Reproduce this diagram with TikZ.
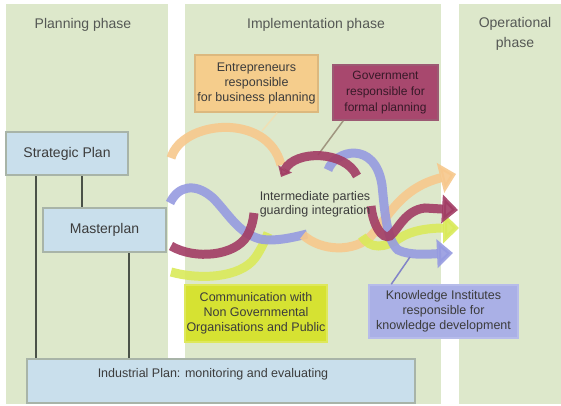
\documentclass[tikz,border=0pt]{standalone}
\usepackage{fontspec}
\setmainfont{Liberation Sans}
\usetikzlibrary{arrows.meta}
\definecolor{panel}{RGB}{221,232,203}
\definecolor{boxblue}{RGB}{201,223,236}
\definecolor{boxline}{RGB}{168,180,168}
\definecolor{conncol}{RGB}{74,82,72}
\definecolor{txtgrey}{RGB}{85,88,85}
\definecolor{txtdark}{RGB}{60,60,60}
\definecolor{orangebox}{RGB}{245,205,140}
\definecolor{maroonbox}{RGB}{168,72,110}
\definecolor{yellowbox}{RGB}{214,226,50}
\definecolor{lavbox}{RGB}{170,176,230}
\definecolor{ribor}{RGB}{247,200,140}
\definecolor{ribma}{RGB}{162,60,100}
\definecolor{ribla}{RGB}{150,155,225}
\definecolor{ribye}{RGB}{218,234,90}
\tikzset{
  title/.style={text=txtgrey, font=\fontsize{14}{20}\selectfont, align=center, inner sep=0pt},
  mainbox/.style={draw=boxline, line width=2.5pt, fill=boxblue, text=txtdark, font=\fontsize{14}{17}\selectfont},
  conn/.style={draw=conncol, line width=2.2pt},
  lab/.style={text=txtdark, font=\fontsize{12.5}{15}\selectfont, align=center, inner sep=0pt},
  labbox/.style={lab, line width=1.5pt},
  rib/.style={line width=9pt, opacity=0.9},
  ptr/.style={line width=1.5pt},
}
\begin{document}
\begin{tikzpicture}[x=1pt,y=-1pt]
\useasboundingbox (0,0) rectangle (561,406);
\fill[white] (0,0) rectangle (561,406);
\fill[panel] (6,4) rectangle (168,404);
\fill[panel] (185,4) rectangle (441,404);
\fill[panel] (459,4) rectangle (561,404);

% titles
\node[title] (t1) at (83,25) {Planning phase};
\node[title] (t2) at (316,25) {Implementation phase};
\node[title] (t3) at (515,34) {Operational\\phase};

% label boxes
\node[labbox, fill=orangebox, draw=orangebox!90!black, minimum width=123pt, minimum height=57pt] (ob) at (256.5,83.5) {Entrepreneurs\\responsible\\for business planning};
\node[labbox, fill=maroonbox, draw=maroonbox!70!gray, minimum width=105pt, minimum height=55pt, font=\fontsize{12}{16}\selectfont, text={rgb,255:red,55;green,25;blue,40}] (mb) at (385.5,92.5) {Government\\responsible for\\formal planning};

% pointers
\coordinate (mbp) at (318,155);
\coordinate (obp) at (262,131);
\draw[ptr, draw={rgb,255:red,160;green,150;blue,128}] ([xshift=11pt]mb.south west) -- (mbp);
\draw[ptr, draw={rgb,255:red,240;green,224;blue,180}] ([xshift=83pt]ob.south west) -- (obp);

% ribbons
\draw[rib, ribye] (171,272) .. controls (200,280) and (240,278) .. (255,258) .. controls (262,248) and (265,240) .. (268,233);
\draw[rib, ribor] (171,158) .. controls (182,120) and (268,112) .. (281,165);
\draw[rib, ribla] (170,203) .. controls (178,186) and (195,182) .. (213,198) .. controls (228,213) and (238,233) .. (260,239) .. controls (275,242) and (295,237) .. (307,234);
\draw[rib, ribma] (171,246) .. controls (195,260) and (235,256) .. (247,236) .. controls (251,229) and (253,222) .. (254,213);
\draw[rib, ribor, -{Triangle[length=16pt,width=30pt]}] (303,235) .. controls (322,252) and (355,252) .. (371,236) .. controls (388,218) and (400,188) .. (456,174);
\draw[rib, ribye, -{Triangle[length=16pt,width=30pt]}] (362,236) .. controls (370,250) and (385,248) .. (400,238) .. controls (412,230) and (430,228) .. (459,228);
\draw[rib, ribla, -{Triangle[length=16pt,width=28pt]}] (328,170) .. controls (335,150) and (375,140) .. (382,185) .. controls (385,215) and (387,240) .. (398,250) .. controls (410,256) and (430,254) .. (453,253);
\draw[rib, ribma, -{Triangle[length=9pt,width=15pt]}] (357,176) .. controls (345,150) and (295,150) .. (281,177);
\draw[rib, ribma, -{Triangle[length=16pt,width=28pt]}] (371,206) .. controls (373,225) and (382,240) .. (390,236) .. controls (398,230) and (405,210) .. (425,208) -- (458,210);

% centre text
\node[lab, font=\fontsize{12.5}{14}\selectfont] (mid) at (315,204) {Intermediate parties\\guarding integration};

% bottom label boxes
\node[labbox, fill=yellowbox, draw=yellowbox!80!white, minimum width=142pt, minimum height=57pt] (yb) at (256,313.5) {Communication with\\Non Governmental\\Organisations and Public};
\node[labbox, fill=lavbox, draw=lavbox!85!white, minimum width=149pt, minimum height=53pt] (kb) at (443.5,311.5) {Knowledge Institutes\\responsible for\\knowledge development};
\coordinate (kbp) at (410,257);
\draw[ptr, draw={rgb,255:red,130;green,132;blue,200}] ([xshift=23pt]kb.north west) -- (kbp);

% planning boxes
\node[mainbox, minimum width=122pt, minimum height=43pt] (sp) at (67,153.5) {Strategic Plan};
\node[mainbox, minimum width=123pt, minimum height=44pt] (ms) at (104.5,230) {Masterplan};
\node[mainbox, minimum width=388pt, minimum height=44pt] (ind) at (221,381) {};
\node[lab, font=\fontsize{12.5}{15}\selectfont] (indt) at (213,374) {Industrial Plan: monitoring and evaluating};

% connectors
\draw[conn] ([xshift=31pt]sp.south west) -- ([xshift=10pt]ind.north west);
\draw[conn] ([xshift=77pt]sp.south west) -- ([xshift=40pt]ms.north west);
\draw[conn] ([xshift=87pt]ms.south west) -- ([xshift=103pt]ind.north west);
\end{tikzpicture}
\end{document}
